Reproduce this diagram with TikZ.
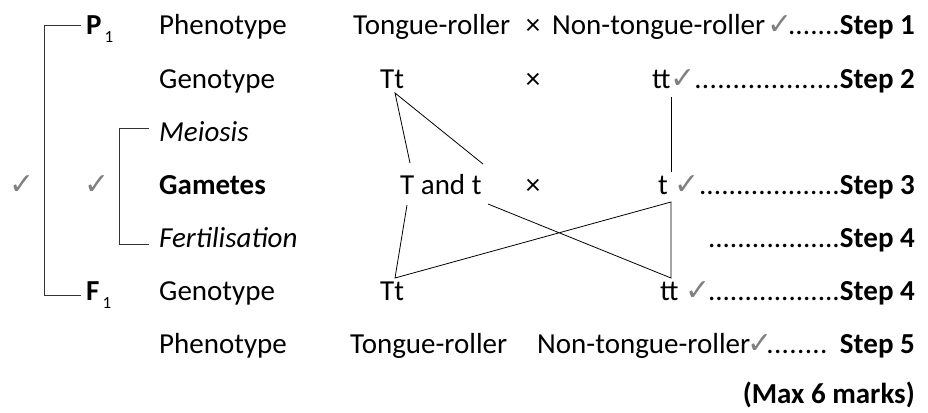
\documentclass[tikz,border=0pt]{standalone}
\usepackage{fontspec}
\setmainfont{Carlito}
\newfontfamily\symfont{DejaVu Sans}
\usetikzlibrary{positioning,calc}

\newcommand{\dotrun}[1]{\hbox to #1pt{\xleaders\hbox{.}\hfill}}

\begin{document}
\begin{tikzpicture}[
    x=1pt, y=-1pt,
    font=\fontsize{29}{34}\selectfont,
    txt/.style={inner sep=0pt, anchor=base west},
    cross/.style={inner sep=0pt, anchor=base},
    stepno/.style={inner sep=0pt, anchor=base east},
    tickmark/.style={inner sep=0pt, anchor=base west, font=\symfont\fontsize{30}{34}\selectfont, text=gray},
    link/.style={line width=0.8pt},
    brace/.style={line width=0.9pt, black!80}
]
\useasboundingbox (0,0) rectangle (928,412);

% ============================================================
% GENERATION LABELS
% ============================================================
\node[txt] (p1) at (86,35)  {\textbf{P}\hspace{3pt}\raisebox{-8pt}{\fontsize{17}{18}\selectfont 1}};
\node[txt] (f1) at (86,300) {\textbf{F}\hspace{3pt}\raisebox{-8pt}{\fontsize{17}{18}\selectfont 1}};

% row labels
\node[txt] (phP)  at (159,35)  {Phenotype};
\node[txt] (geP)  at (159,88)  {Genotype};
\node[txt] (mei)  at (159,141) {\textit{Meiosis}};
\node[txt] (gam)  at (159,194) {\textbf{Gametes}};
\node[txt] (fer)  at (159,247) {\textit{Fertilisation}};
\node[txt] (geF)  at (159,300) {Genotype};
\node[txt] (phF)  at (159,353) {Phenotype};

% ============================================================
% CROSS ENTRIES
% ============================================================
\node[txt]   (rollP)  at (353,35)  {Tongue-roller};
\node[cross] (x1)     at (533,35)  {×};
\node[txt]   (nonP)   at (552,35)  {Non-tongue-roller};
\node[tickmark]  (c1) at (767,35)  {✓};

\node[txt]   (tTt)    at (380,88)  {Tt};
\node[cross] (x2)     at (533,88)  {×};
\node[txt]   (ttP)    at (652,88)  {tt};
\node[tickmark]  (c2) at (670,88)  {✓};

\node[txt]   (gTt)    at (400,194) {T and t};
\node[cross] (x3)     at (533,194) {×};
\node[txt]   (gt)     at (658,194) {t};
\node[tickmark]  (c3) at (674,194) {✓};

\node[txt]   (fTt)    at (380,300) {Tt};
\node[txt]   (ftt)    at (660,300) {tt};
\node[tickmark]  (c5) at (685,300) {✓};

\node[txt]   (rollF)  at (350,353) {Tongue-roller};
\node[txt]   (nonF)   at (537,353) {Non-tongue-roller};
\node[tickmark]  (c6) at (747,353) {✓};

% ============================================================
% STEPS
% ============================================================
\node[stepno] (s1) at (915,35)  {\dotrun{52}\textbf{Step 1}};
\node[stepno] (s2) at (915,88)  {\dotrun{146}\textbf{Step 2}};
\node[stepno] (s3) at (915,194) {\dotrun{141}\textbf{Step 3}};
\node[stepno] (s4) at (915,247) {\dotrun{132}\textbf{Step 4}};
\node[stepno] (s5) at (915,300) {\dotrun{132}\textbf{Step 4}};
\node[stepno] (s6) at (915,353) {\dotrun{62}\hspace{12pt}\textbf{Step 5}};
\node[stepno] (max) at (915,403) {\textbf{(Max 6 marks)}};

% ============================================================
% BRACKETS
% ============================================================
\draw[brace] (81,25) -- (44,25) -- (44,295) -- (81,295);
\draw[brace] (149,128) -- (119,128) -- (119,244) -- (149,244);
\node[tickmark, anchor=center] (cOut) at (22,185) {✓};
\node[tickmark, anchor=center] (cIn)  at (97,185) {✓};

% ============================================================
% LINES
% ============================================================
\coordinate (pA)  at (395,93);
\coordinate (gA)  at (410,163);
\coordinate (gB)  at (483,164);
\coordinate (gC)  at (407,205);
\coordinate (gD)  at (488,204);
\coordinate (fA)  at (395,278);
\coordinate (pB)  at (671,97);
\coordinate (gE)  at (671,172);
\coordinate (gF)  at (671,202);
\coordinate (fB)  at (671,278);

\draw[link] (gA) -- (pA) -- (gB);
\draw[link] (gC) -- (fA) -- (gF) -- (fB) -- (gD);
\draw[link] (pB) -- (gE);

\end{tikzpicture}
\end{document}
